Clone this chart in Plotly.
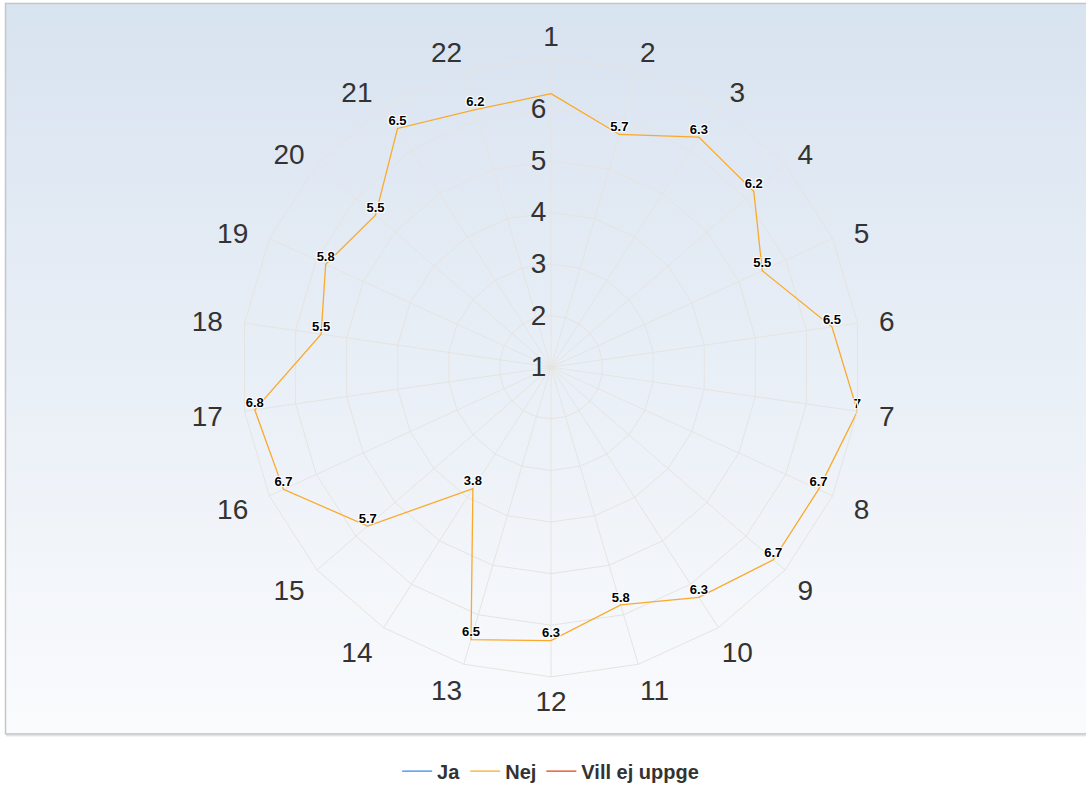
import base64
import plotly.graph_objects as go

# ---- data ----
categories = [str(i) for i in range(1, 23)]
ja_values = [None] * 22          # no answers plotted
nej_values = [6.3, 5.7, 6.3, 6.2, 5.5, 6.5, 7, 6.7, 6.7, 6.3, 5.8,
              6.3, 6.5, 3.8, 5.7, 6.7, 6.8, 5.5, 5.8, 5.5, 6.5, 6.2]
vill_values = [None] * 22        # no answers plotted
radial_ticks = [1, 2, 3, 4, 5, 6]
series_names = ["Ja", "Nej", "Vill ej uppge"]
series_colors = ["#3c86ef", "#fba92b", "#e4401a"]

# data labels (first one is hidden in the original because it overlaps the axis label)
nej_labels = [f"{v:g}" for v in nej_values]
nej_labels[0] = ""

# style: extra spacing (in spaces) between the polygon and each category label
label_pad = [0, 0, 1, 1, 2, 2, 2, 2, 1, 0, 0,
             0, 0, 1, 1, 2, 2, 2, 2, 1, 1, 0]

W, H = 1086, 791
FONT = "Liberation Sans, Arial, Helvetica, sans-serif"
GRID = "#e6e4e1"

cat_text = []
for i, (c, p) in enumerate(zip(categories, label_pad)):
    pad = "\u00a0" * p
    cat_text.append(pad + c if i < 11 else c + pad)

# gradient background frame as an inline SVG image
svg = f'''<svg xmlns="http://www.w3.org/2000/svg" width="{W}" height="{H}" viewBox="0 0 {W} {H}">
<defs><linearGradient id="g" x1="0" y1="0" x2="0" y2="1">
<stop offset="0" stop-color="#d8e3f0"/><stop offset="1" stop-color="#fafbfd"/></linearGradient></defs>
<rect x="0" y="0" width="{W}" height="{H}" fill="#ffffff"/>
<rect x="7" y="5" width="{W+20}" height="736" fill="none" stroke="#e2e2e2" stroke-width="2"/>
<rect x="5.5" y="3.5" width="{W+20}" height="736" fill="url(#g)" stroke="#c6c6c6" stroke-width="1.5"/>
</svg>'''
svg_uri = "data:image/svg+xml;base64," + base64.b64encode(svg.encode()).decode()

fig = go.Figure()
all_values = [ja_values, nej_values, vill_values]
for name, color, vals in zip(series_names, series_colors, all_values):
    if name == "Nej":
        fig.add_trace(go.Scatterpolar(
            r=vals + vals[:1], theta=categories + categories[:1], name=name,
            mode="lines+text", text=nej_labels + [""],
            textposition="top center",
            textfont=dict(family=FONT, size=13, color="#000000", weight="bold",
                          shadow="1px 1px 1px #fff, -1px -1px 1px #fff, 1px -1px 1px #fff, -1px 1px 1px #fff"),
            line=dict(color=color, width=1.3),
            cliponaxis=False, hoverinfo="r+theta+name"))
    else:
        fig.add_trace(go.Scatterpolar(
            r=vals, theta=categories, name=name, mode="lines",
            line=dict(color=color, width=1.3), showlegend=True))

cx, cy, R = 551, 370, 312
fig.update_layout(
    width=W, height=H,
    margin=dict(l=0, r=0, t=0, b=0),
    paper_bgcolor="#ffffff",
    font=dict(family=FONT, color="#333333"),
    images=[dict(source=svg_uri, xref="paper", yref="paper", x=0, y=1,
                 sizex=1, sizey=1, xanchor="left", yanchor="top",
                 sizing="stretch", layer="below")],
    polar=dict(
        domain=dict(x=[(cx - R) / W, (cx + R) / W],
                    y=[1 - (cy + R) / H, 1 - (cy - R) / H]),
        bgcolor="rgba(0,0,0,0)",
        gridshape="linear",
        angularaxis=dict(type="category", categoryarray=categories,
                         tickmode="array", tickvals=categories, ticktext=cat_text,
                         rotation=90, direction="clockwise",
                         showline=True, linecolor=GRID, linewidth=1,
                         gridcolor=GRID, gridwidth=1, ticks="",
                         tickfont=dict(family=FONT, size=28, color="#333333")),
        radialaxis=dict(range=[1, 7], tickvals=radial_ticks,
                        ticktext=[str(t) for t in radial_ticks],
                        angle=90, tickangle=90, side="counterclockwise",
                        showline=False, ticks="", gridcolor=GRID, gridwidth=1,
                        tickfont=dict(family=FONT, size=28, color="#333333")),
    ),
    showlegend=True,
    legend=dict(orientation="h", x=0.507, xanchor="center", y=1 - 777 / H,
                yanchor="middle", bgcolor="rgba(0,0,0,0)",
                font=dict(family=FONT, size=20, color="#333333", weight="bold"),
                itemwidth=30, tracegroupgap=0),
)

fig.write_html("out.html", config={"displayModeBar": False},
               post_script="document.body.style.margin='0';")
